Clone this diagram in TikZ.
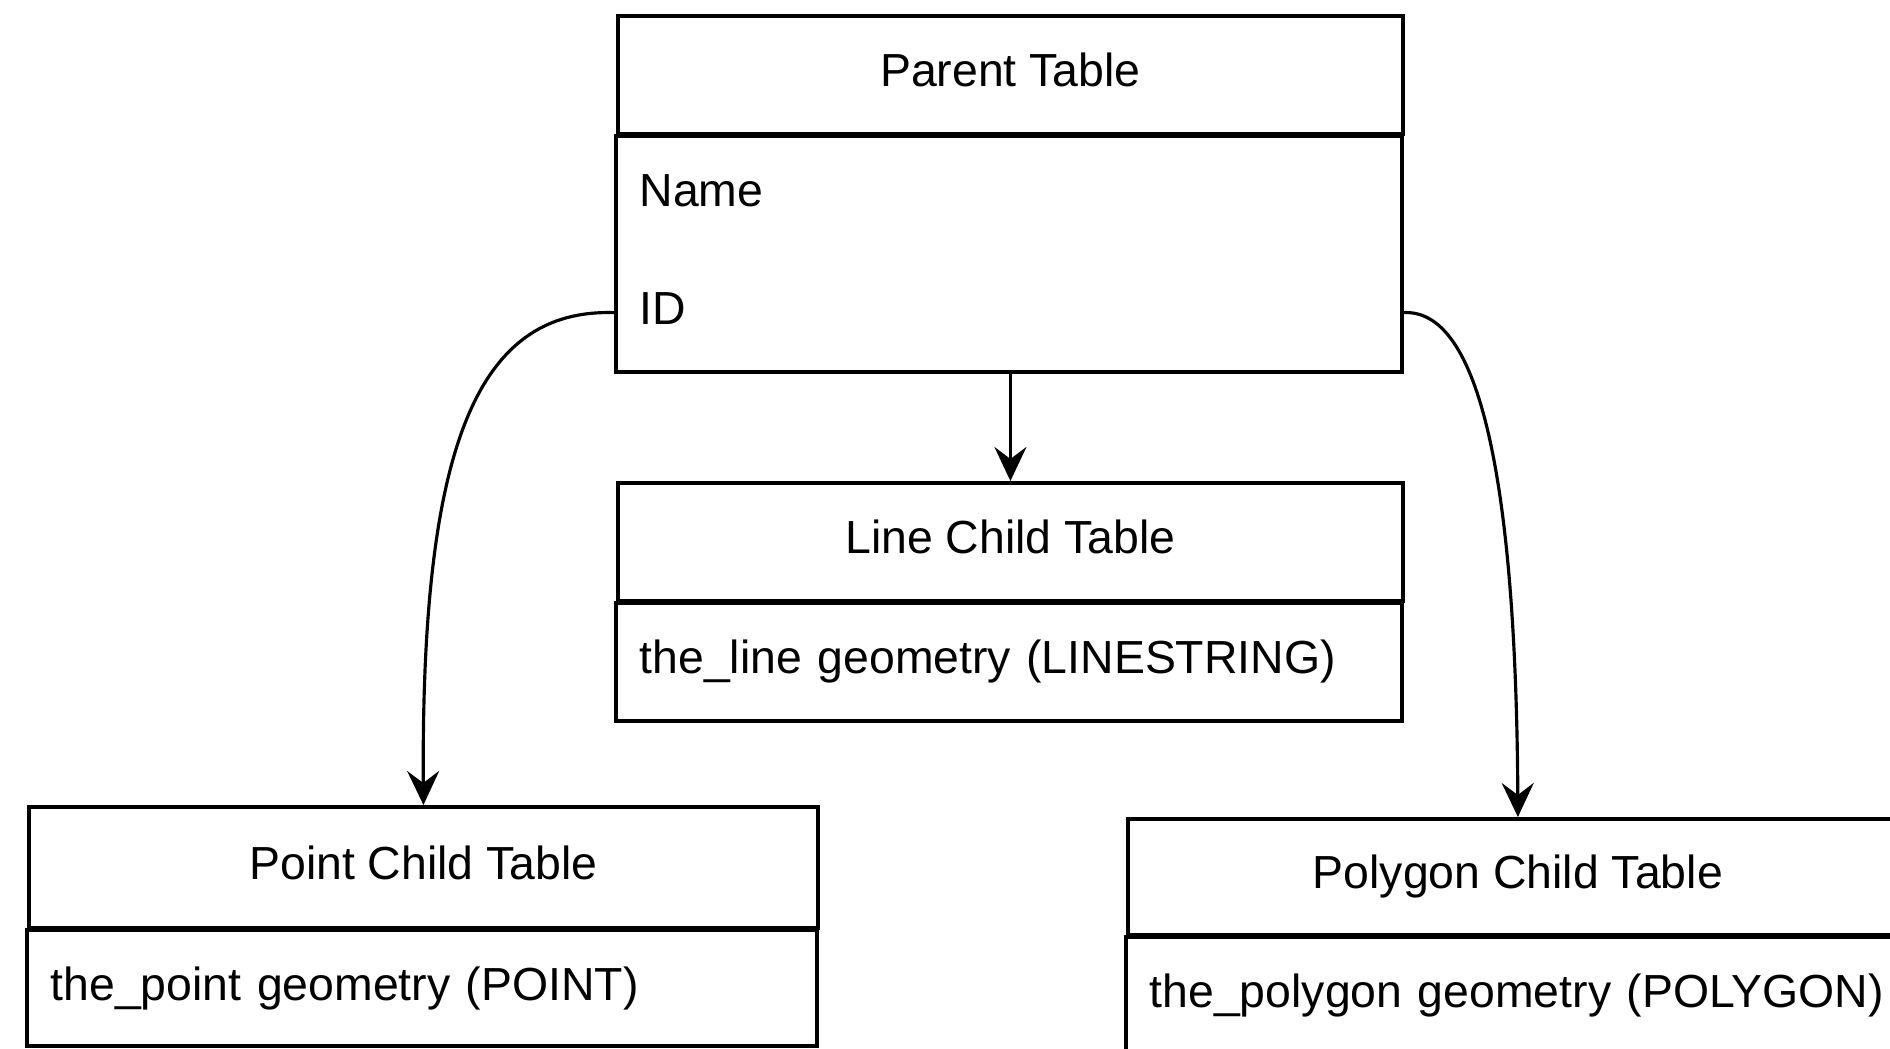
\documentclass[tikz,border=0pt]{standalone}
\usepackage{fontspec}
\setmainfont{Liberation Sans}
\usetikzlibrary{arrows.meta}
\tikzset{
	tblhead/.style={draw, line width=1.1pt, minimum height=1.18cm, anchor=north west, inner sep=0pt, text height=9.6pt, text depth=2.8pt, font=\fontsize{13.2}{15.8}\selectfont},
	tblrow/.style={minimum height=1.165cm, anchor=north west, inner xsep=0.23cm, inner ysep=0pt, align=left, text height=9.6pt, text depth=2.8pt, font=\fontsize{13.2}{15.8}\selectfont},
	tblbox/.style={line width=1.1pt},
	link/.style={line width=0.9pt, -{Stealth[length=3.4mm, width=3.2mm, inset=1.2mm]}}
}
\begin{document}
\begin{tikzpicture}
	\useasboundingbox (0, 0) rectangle (18.9, -10.49);
	% parent table
	\node[tblhead, minimum width=7.85cm] (parent) at (6.16, -0.14) {Parent Table};
	\node[tblrow, text width=7.39cm] (pname) at (parent.south west) {Name};
	\node[tblrow, text width=7.39cm] (pid) at (pname.south west) {ID};
	\draw[tblbox] (parent.south west) rectangle (pid.south east);
	% line child
	\node[tblhead, minimum width=7.85cm] (line) at (6.16, -4.81) {Line Child Table};
	\node[tblrow, text width=7.39cm] (linegeom) at (line.south west) {the\_line geometry (LINESTRING)};
	\draw[tblbox] (line.south west) rectangle (linegeom.south east);
	% point child
	\node[tblhead, minimum width=7.89cm, minimum height=1.21cm] (point) at (0.27, -8.05) {Point Child Table};
	\node[tblrow, text width=7.43cm, minimum height=1.15cm] (pointgeom) at (point.south west) {the\_point geometry (POINT)};
	\draw[tblbox] (point.south west) rectangle (pointgeom.south east);
	% polygon child
	\node[tblhead, minimum width=7.8cm, minimum height=1.16cm] (poly) at (11.26, -8.17) {Polygon Child Table};
	\node[tblrow, text width=7.34cm] (polygeom) at (poly.south west) {\mbox{the\_polygon geometry (POLYGON)}};
	\draw[tblbox] (poly.south west) rectangle (polygeom.south east);
	% links
	\draw[link] (pid.south -| line.north) -- (line.north);
	\draw[link] (pid.west) .. controls (4.75, -3.07) and (4.21, -4.5) .. (point.north);
	\draw[link] (pid.east) .. controls (14.75, -3.07) and (15.16, -4.6) .. (poly.north);
\end{tikzpicture}
\end{document}
